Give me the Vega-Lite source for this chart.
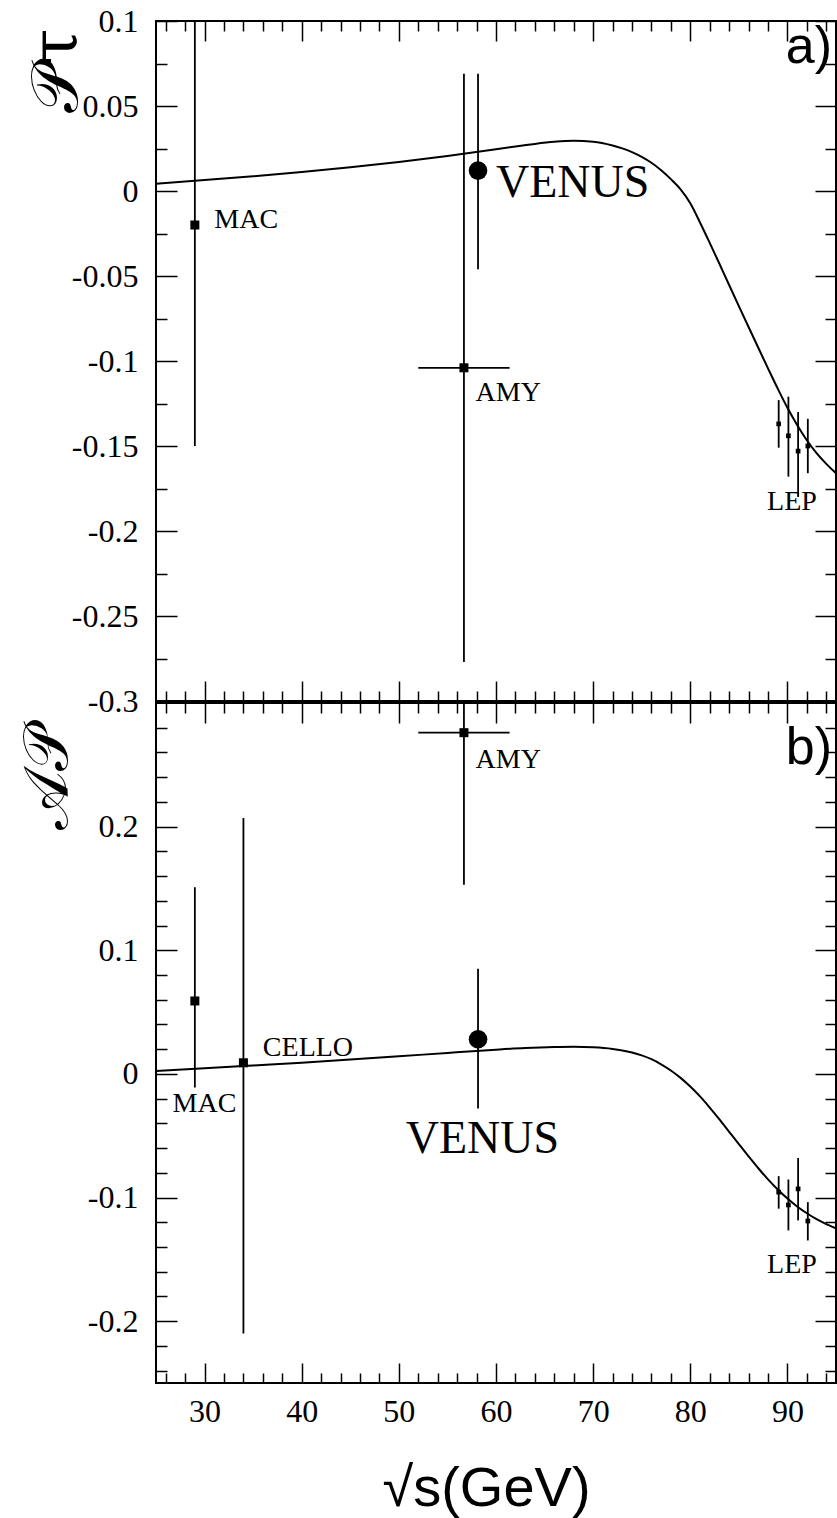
{
  "$schema": "https://vega.github.io/schema/vega-lite/v6.json",
  "background": "white",
  "padding": {"left": 15, "top": 4, "right": 2, "bottom": 2},
  "spacing": 2,
  "bounds": "flush",
  "datasets": {
    "ptau": [
      {"exp": "MAC", "x": 29.0, "y": -0.02, "lo": -0.15, "hi": 0.1},
      {"exp": "AMY", "x": 56.7, "y": -0.104, "lo": -0.277, "hi": 0.069, "xlo": 52.0, "xhi": 61.4},
      {"exp": "VENUS", "x": 58.15, "y": 0.012, "lo": -0.046, "hi": 0.069},
      {"exp": "LEP", "x": 89.1, "y": -0.137, "lo": -0.151, "hi": -0.123},
      {"exp": "LEP", "x": 90.1, "y": -0.144, "lo": -0.168, "hi": -0.121},
      {"exp": "LEP", "x": 91.1, "y": -0.153, "lo": -0.180, "hi": -0.130},
      {"exp": "LEP", "x": 92.1, "y": -0.150, "lo": -0.166, "hi": -0.134}
    ],
    "ap": [
      {"exp": "MAC", "x": 29.0, "y": 0.059, "lo": -0.011, "hi": 0.151},
      {"exp": "CELLO", "x": 34.0, "y": 0.009, "lo": -0.21, "hi": 0.207},
      {"exp": "AMY", "x": 56.7, "y": 0.276, "lo": 0.153, "hi": 0.3, "xlo": 52.0, "xhi": 61.4},
      {"exp": "VENUS", "x": 58.15, "y": 0.028, "lo": -0.028, "hi": 0.085},
      {"exp": "LEP", "x": 89.1, "y": -0.0956, "lo": -0.109, "hi": -0.0827},
      {"exp": "LEP", "x": 90.1, "y": -0.106, "lo": -0.1266, "hi": -0.0854},
      {"exp": "LEP", "x": 91.1, "y": -0.093, "lo": -0.1185, "hi": -0.068},
      {"exp": "LEP", "x": 92.1, "y": -0.119, "lo": -0.1347, "hi": -0.1037}
    ],
    "pcurve": [
      {"x": 25, "y": 0.0043}, {"x": 30, "y": 0.0064}, {"x": 35, "y": 0.0087}, {"x": 40, "y": 0.0112},
      {"x": 45, "y": 0.014}, {"x": 50, "y": 0.0171}, {"x": 55, "y": 0.0206}, {"x": 60, "y": 0.0245},
      {"x": 62, "y": 0.0262}, {"x": 64, "y": 0.0277}, {"x": 66, "y": 0.0289}, {"x": 68, "y": 0.0295},
      {"x": 70, "y": 0.029}, {"x": 72, "y": 0.0268}, {"x": 73, "y": 0.0251}, {"x": 74, "y": 0.0229},
      {"x": 75, "y": 0.0201}, {"x": 76, "y": 0.0166}, {"x": 77, "y": 0.0122}, {"x": 78, "y": 0.007},
      {"x": 79, "y": 0.001}, {"x": 80, "y": -0.0072}, {"x": 81, "y": -0.0185}, {"x": 82, "y": -0.0305},
      {"x": 83, "y": -0.0428}, {"x": 84, "y": -0.0553}, {"x": 85, "y": -0.0677}, {"x": 86, "y": -0.08},
      {"x": 87, "y": -0.0922}, {"x": 88, "y": -0.1043}, {"x": 89, "y": -0.1162}, {"x": 90, "y": -0.1275},
      {"x": 91, "y": -0.1376}, {"x": 92, "y": -0.1466}, {"x": 93, "y": -0.1542}, {"x": 94, "y": -0.1605},
      {"x": 95, "y": -0.166}
    ],
    "acurve": [
      {"x": 25, "y": 0.0023}, {"x": 30, "y": 0.0045}, {"x": 35, "y": 0.0068}, {"x": 40, "y": 0.0091},
      {"x": 45, "y": 0.0116}, {"x": 50, "y": 0.0142}, {"x": 55, "y": 0.017}, {"x": 60, "y": 0.0196},
      {"x": 63, "y": 0.0209}, {"x": 66, "y": 0.0217}, {"x": 68, "y": 0.0219}, {"x": 70, "y": 0.0215},
      {"x": 72, "y": 0.0202}, {"x": 73, "y": 0.019}, {"x": 74, "y": 0.0173}, {"x": 75, "y": 0.015},
      {"x": 76, "y": 0.0119}, {"x": 77, "y": 0.0078}, {"x": 78, "y": 0.0028}, {"x": 79, "y": -0.0032},
      {"x": 80, "y": -0.0102}, {"x": 81, "y": -0.0182}, {"x": 82, "y": -0.0272}, {"x": 83, "y": -0.0368},
      {"x": 84, "y": -0.0468}, {"x": 85, "y": -0.0568}, {"x": 86, "y": -0.0667}, {"x": 87, "y": -0.0763},
      {"x": 88, "y": -0.0853}, {"x": 89, "y": -0.0935}, {"x": 90, "y": -0.1008}, {"x": 91, "y": -0.1072},
      {"x": 92, "y": -0.1127}, {"x": 93, "y": -0.1175}, {"x": 94, "y": -0.1215}, {"x": 95, "y": -0.125}
    ],
    "plabels": [
      {"x": 31.0, "y": -0.017, "t": "MAC"},
      {"x": 57.9, "y": -0.119, "t": "AMY"},
      {"x": 87.9, "y": -0.183, "t": "LEP"}
    ],
    "pvenus": [{"x": 60.0, "y": 0.0045, "t": "VENUS"}],
    "ppanel": [{"x": 94.6, "y": 0.085, "t": "a)"}],
    "alabels": [
      {"x": 57.9, "y": 0.254, "t": "AMY"},
      {"x": 36.0, "y": 0.0213, "t": "CELLO"},
      {"x": 26.7, "y": -0.024, "t": "MAC"},
      {"x": 87.9, "y": -0.1547, "t": "LEP"}
    ],
    "avenus": [{"x": 50.7, "y": -0.0527, "t": "VENUS"}],
    "apanel": [{"x": 94.6, "y": 0.264, "t": "b)"}]
  },
  "vconcat": [
    {
      "width": 680,
      "height": 680,
      "resolve": {"axis": {"x": "independent", "y": "independent"}},
      "layer": [
        {
          "data": {"name": "pcurve"},
          "mark": {"type": "line", "color": "black", "strokeWidth": 2, "interpolate": "monotone", "clip": true},
          "encoding": {
            "x": {"field": "x", "type": "quantitative", "scale": {"domain": [25, 95], "nice": false, "zero": false},
              "axis": {"orient": "bottom", "values": [30, 40, 50, 60, 70, 80, 90], "labels": false, "tickSize": -20, "title": null}},
            "y": {"field": "y", "type": "quantitative", "scale": {"domain": [-0.3, 0.1], "nice": false, "zero": false},
              "axis": {"orient": "left", "values": [-0.3, -0.25, -0.2, -0.15, -0.1, -0.05, 0, 0.05, 0.1], "tickSize": -21, "labelPadding": 39,
                "labelFlush": false, "labelFont": "Liberation Serif", "labelFontSize": 32, "labelColor": "black",
                "labelExpr": "datum.value < 0 ? '-' + format(-datum.value, '~g') : format(datum.value, '~g')",
                "title": "𝒫τ", "titleFont": "DejaVu Serif", "titleFontSize": 66, "titleFontWeight": "normal",
                "titleAngle": 270, "titleAlign": "right", "titleBaseline": "alphabetic", "titleX": -80, "titleY": 7}}
          }
        },
        {
          "data": {"name": "ptau"},
          "mark": {"type": "rule", "color": "black", "strokeWidth": 1.8, "clip": true},
          "encoding": {
            "x": {"field": "x", "type": "quantitative", "scale": {"domain": [25, 95], "nice": false, "zero": false},
              "axis": {"orient": "top", "values": [30, 40, 50, 60, 70, 80, 90], "labels": false, "tickSize": -20, "title": null}},
            "y": {"field": "lo", "type": "quantitative", "scale": {"domain": [-0.3, 0.1], "nice": false, "zero": false},
              "axis": {"orient": "right", "values": [-0.3, -0.25, -0.2, -0.15, -0.1, -0.05, 0, 0.05, 0.1], "labels": false, "tickSize": -21, "title": null}},
            "y2": {"field": "hi"}
          }
        },
        {
          "data": {"name": "ptau"},
          "transform": [{"filter": "datum.exp == 'AMY'"}],
          "mark": {"type": "rule", "color": "black", "strokeWidth": 1.8, "clip": true},
          "encoding": {
            "x": {"field": "xlo", "type": "quantitative", "scale": {"domain": [25, 95], "nice": false, "zero": false},
              "axis": {"orient": "bottom", "values": [26, 28, 32, 34, 36, 38, 42, 44, 46, 48, 52, 54, 56, 58, 62, 64, 66, 68, 72, 74, 76, 78, 82, 84, 86, 88, 92, 94], "labels": false, "tickSize": -10, "title": null}},
            "x2": {"field": "xhi"},
            "y": {"field": "y", "type": "quantitative", "scale": {"domain": [-0.3, 0.1], "nice": false, "zero": false},
              "axis": {"orient": "left", "values": [-0.275, -0.225, -0.175, -0.125, -0.075, -0.025, 0.025, 0.075], "labels": false, "tickSize": -11, "title": null}}
          }
        },
        {
          "data": {"name": "ptau"},
          "transform": [{"filter": "datum.exp == 'MAC' || datum.exp == 'AMY'"}],
          "mark": {"type": "point", "shape": "square", "filled": true, "color": "black", "opacity": 1, "size": 81},
          "encoding": {
            "x": {"field": "x", "type": "quantitative", "scale": {"domain": [25, 95], "nice": false, "zero": false},
              "axis": {"orient": "top", "values": [26, 28, 32, 34, 36, 38, 42, 44, 46, 48, 52, 54, 56, 58, 62, 64, 66, 68, 72, 74, 76, 78, 82, 84, 86, 88, 92, 94], "labels": false, "tickSize": -10, "title": null}},
            "y": {"field": "y", "type": "quantitative", "scale": {"domain": [-0.3, 0.1], "nice": false, "zero": false},
              "axis": {"orient": "right", "values": [-0.275, -0.225, -0.175, -0.125, -0.075, -0.025, 0.025, 0.075], "labels": false, "tickSize": -11, "title": null}}
          }
        },
        {
          "data": {"name": "ptau"},
          "transform": [{"filter": "datum.exp == 'VENUS'"}],
          "mark": {"type": "point", "shape": "circle", "filled": true, "color": "black", "opacity": 1, "size": 346},
          "encoding": {
            "x": {"field": "x", "type": "quantitative", "axis": null},
            "y": {"field": "y", "type": "quantitative", "axis": null}
          }
        },
        {
          "data": {"name": "ptau"},
          "transform": [{"filter": "datum.exp == 'LEP'"}],
          "mark": {"type": "point", "shape": "square", "filled": true, "color": "black", "opacity": 1, "size": 22},
          "encoding": {
            "x": {"field": "x", "type": "quantitative", "axis": null},
            "y": {"field": "y", "type": "quantitative", "axis": null}
          }
        },
        {
          "data": {"name": "plabels"},
          "mark": {"type": "text", "align": "left", "baseline": "middle", "font": "Liberation Serif", "fontSize": 28, "color": "black"},
          "encoding": {
            "x": {"field": "x", "type": "quantitative", "axis": null},
            "y": {"field": "y", "type": "quantitative", "axis": null},
            "text": {"field": "t"}
          }
        },
        {
          "data": {"name": "pvenus"},
          "mark": {"type": "text", "align": "left", "baseline": "middle", "font": "Liberation Serif", "fontSize": 46, "color": "black"},
          "encoding": {
            "x": {"field": "x", "type": "quantitative", "axis": null},
            "y": {"field": "y", "type": "quantitative", "axis": null},
            "text": {"field": "t"}
          }
        },
        {
          "data": {"name": "ppanel"},
          "mark": {"type": "text", "align": "right", "baseline": "middle", "font": "Liberation Sans", "fontSize": 52, "color": "black"},
          "encoding": {
            "x": {"field": "x", "type": "quantitative", "axis": null},
            "y": {"field": "y", "type": "quantitative", "axis": null},
            "text": {"field": "t"}
          }
        }
      ]
    },
    {
      "width": 680,
      "height": 680,
      "resolve": {"axis": {"x": "independent", "y": "independent"}},
      "layer": [
        {
          "data": {"name": "acurve"},
          "mark": {"type": "line", "color": "black", "strokeWidth": 2, "interpolate": "monotone", "clip": true},
          "encoding": {
            "x": {"field": "x", "type": "quantitative", "scale": {"domain": [25, 95], "nice": false, "zero": false},
              "axis": {"orient": "bottom", "values": [30, 40, 50, 60, 70, 80, 90], "tickSize": -20, "labelPadding": 33, "labelFlush": false,
                "labelFont": "Liberation Serif", "labelFontSize": 32, "labelColor": "black",
                "title": "√s(GeV)", "titleFont": "Liberation Sans", "titleFontSize": 56, "titleFontWeight": "normal",
                "titleBaseline": "alphabetic", "titleAnchor": "middle", "titleX": 330, "titleY": 122}},
            "y": {"field": "y", "type": "quantitative", "scale": {"domain": [-0.25, 0.3], "nice": false, "zero": false},
              "axis": {"orient": "left", "values": [-0.2, -0.1, 0, 0.1, 0.2], "tickSize": -21, "labelPadding": 39,
                "labelFlush": false, "labelFont": "Liberation Serif", "labelFontSize": 32, "labelColor": "black",
                "labelExpr": "datum.value < 0 ? '-' + format(-datum.value, '~g') : format(datum.value, '~g')",
                "title": "𝒜𝒫", "titleFont": "DejaVu Serif", "titleFontSize": 62, "titleFontWeight": "normal",
                "titleAngle": 270, "titleAlign": "right", "titleBaseline": "alphabetic", "titleX": -90, "titleY": 22}}
          }
        },
        {
          "data": {"name": "ap"},
          "mark": {"type": "rule", "color": "black", "strokeWidth": 1.8, "clip": true},
          "encoding": {
            "x": {"field": "x", "type": "quantitative", "scale": {"domain": [25, 95], "nice": false, "zero": false},
              "axis": {"orient": "top", "values": [30, 40, 50, 60, 70, 80, 90], "labels": false, "tickSize": -20, "title": null}},
            "y": {"field": "lo", "type": "quantitative", "scale": {"domain": [-0.25, 0.3], "nice": false, "zero": false},
              "axis": {"orient": "right", "values": [-0.2, -0.1, 0, 0.1, 0.2], "labels": false, "tickSize": -21, "title": null}},
            "y2": {"field": "hi"}
          }
        },
        {
          "data": {"name": "ap"},
          "transform": [{"filter": "datum.exp == 'AMY'"}],
          "mark": {"type": "rule", "color": "black", "strokeWidth": 1.8, "clip": true},
          "encoding": {
            "x": {"field": "xlo", "type": "quantitative", "scale": {"domain": [25, 95], "nice": false, "zero": false},
              "axis": {"orient": "bottom", "values": [26, 28, 32, 34, 36, 38, 42, 44, 46, 48, 52, 54, 56, 58, 62, 64, 66, 68, 72, 74, 76, 78, 82, 84, 86, 88, 92, 94], "labels": false, "tickSize": -10, "title": null}},
            "x2": {"field": "xhi"},
            "y": {"field": "y", "type": "quantitative", "scale": {"domain": [-0.25, 0.3], "nice": false, "zero": false},
              "axis": {"orient": "left", "values": [-0.24, -0.22, -0.18, -0.16, -0.14, -0.12, -0.08, -0.06, -0.04, -0.02, 0.02, 0.04, 0.06, 0.08, 0.12, 0.14, 0.16, 0.18, 0.22, 0.24, 0.26, 0.28], "labels": false, "tickSize": -11, "title": null}}
          }
        },
        {
          "data": {"name": "ap"},
          "transform": [{"filter": "datum.exp == 'MAC' || datum.exp == 'AMY' || datum.exp == 'CELLO'"}],
          "mark": {"type": "point", "shape": "square", "filled": true, "color": "black", "opacity": 1, "size": 81},
          "encoding": {
            "x": {"field": "x", "type": "quantitative", "scale": {"domain": [25, 95], "nice": false, "zero": false},
              "axis": {"orient": "top", "values": [26, 28, 32, 34, 36, 38, 42, 44, 46, 48, 52, 54, 56, 58, 62, 64, 66, 68, 72, 74, 76, 78, 82, 84, 86, 88, 92, 94], "labels": false, "tickSize": -10, "title": null}},
            "y": {"field": "y", "type": "quantitative", "scale": {"domain": [-0.25, 0.3], "nice": false, "zero": false},
              "axis": {"orient": "right", "values": [-0.24, -0.22, -0.18, -0.16, -0.14, -0.12, -0.08, -0.06, -0.04, -0.02, 0.02, 0.04, 0.06, 0.08, 0.12, 0.14, 0.16, 0.18, 0.22, 0.24, 0.26, 0.28], "labels": false, "tickSize": -11, "title": null}}
          }
        },
        {
          "data": {"name": "ap"},
          "transform": [{"filter": "datum.exp == 'VENUS'"}],
          "mark": {"type": "point", "shape": "circle", "filled": true, "color": "black", "opacity": 1, "size": 346},
          "encoding": {
            "x": {"field": "x", "type": "quantitative", "axis": null},
            "y": {"field": "y", "type": "quantitative", "axis": null}
          }
        },
        {
          "data": {"name": "ap"},
          "transform": [{"filter": "datum.exp == 'LEP'"}],
          "mark": {"type": "point", "shape": "square", "filled": true, "color": "black", "opacity": 1, "size": 22},
          "encoding": {
            "x": {"field": "x", "type": "quantitative", "axis": null},
            "y": {"field": "y", "type": "quantitative", "axis": null}
          }
        },
        {
          "data": {"name": "alabels"},
          "mark": {"type": "text", "align": "left", "baseline": "middle", "font": "Liberation Serif", "fontSize": 28, "color": "black"},
          "encoding": {
            "x": {"field": "x", "type": "quantitative", "axis": null},
            "y": {"field": "y", "type": "quantitative", "axis": null},
            "text": {"field": "t"}
          }
        },
        {
          "data": {"name": "avenus"},
          "mark": {"type": "text", "align": "left", "baseline": "middle", "font": "Liberation Serif", "fontSize": 46, "color": "black"},
          "encoding": {
            "x": {"field": "x", "type": "quantitative", "axis": null},
            "y": {"field": "y", "type": "quantitative", "axis": null},
            "text": {"field": "t"}
          }
        },
        {
          "data": {"name": "apanel"},
          "mark": {"type": "text", "align": "right", "baseline": "middle", "font": "Liberation Sans", "fontSize": 52, "color": "black"},
          "encoding": {
            "x": {"field": "x", "type": "quantitative", "axis": null},
            "y": {"field": "y", "type": "quantitative", "axis": null},
            "text": {"field": "t"}
          }
        }
      ]
    }
  ],
  "config": {
    "font": "Liberation Serif",
    "view": {"stroke": "black", "strokeWidth": 2},
    "axis": {
      "domain": false, "grid": false, "tickColor": "black", "tickWidth": 1.5,
      "labelFont": "Liberation Serif", "labelFontSize": 32, "labelColor": "black",
      "titleColor": "black"
    }
  }
}
